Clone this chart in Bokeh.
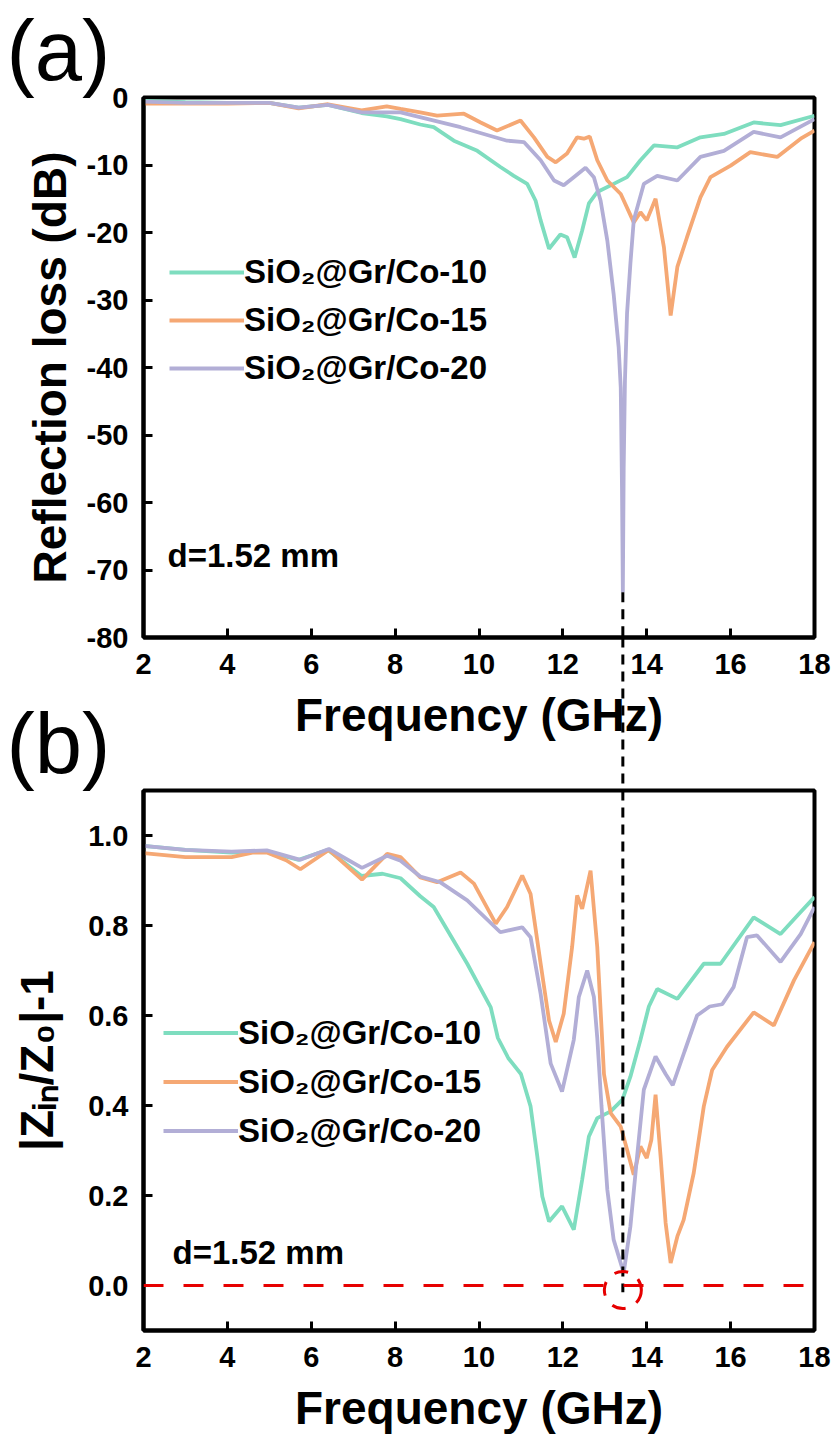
from bokeh.plotting import figure
from bokeh.models import (Range1d, FixedTicker, PrintfTickFormatter, Label, Title,
                          Legend, LegendItem, Span)
from bokeh.layouts import column
from bokeh.embed import file_html
from bokeh.resources import INLINE

FONT = "Liberation Sans"
C10 = "#7EDDBF"
C15 = "#F5A874"
C20 = "#B2AED6"

freq_ticks = [2, 4, 6, 8, 10, 12, 14, 16, 18]
rl_ticks = [-80, -70, -60, -50, -40, -30, -20, -10, 0]
z_ticks = [0.0, 0.2, 0.4, 0.6, 0.8, 1.0]
series_names = ["SiO\u2082@Gr/Co-10", "SiO\u2082@Gr/Co-15", "SiO\u2082@Gr/Co-20"]

# ---- (a) reflection loss (dB) ----
f_rl_10 = [2.0, 3.0, 4.0, 5.0, 5.7, 6.4, 7.2, 7.8, 8.13, 8.6, 8.92, 9.4, 9.96, 10.51,
           10.83, 11.15, 11.35, 11.47, 11.67, 11.94, 12.1, 12.28, 12.46, 12.62, 12.82,
           13.21, 13.53, 13.85, 14.17, 14.72, 15.28, 15.84, 16.55, 17.19, 18.0]
rl_10 = [-0.5, -0.7, -0.8, -0.8, -1.5, -1.1, -2.3, -2.8, -3.2, -4.0, -4.4, -6.4, -7.9, -10.3,
         -11.6, -12.8, -15.3, -18.2, -22.4, -20.3, -20.7, -23.7, -19.7, -15.7, -14.0,
         -12.8, -11.8, -9.3, -7.1, -7.4, -5.9, -5.4, -3.7, -4.1, -2.7]

f_rl_15 = [2.0, 3.0, 4.0, 5.0, 5.7, 6.4, 7.2, 7.8, 8.13, 8.6, 9.0, 9.64, 10.04, 10.43,
           10.99, 11.31, 11.63, 11.83, 12.1, 12.34, 12.5, 12.64, 12.82, 13.06, 13.38,
           13.69, 13.85, 14.0, 14.21, 14.41, 14.57, 14.73, 14.96, 15.28, 15.52, 16.0,
           16.47, 17.11, 17.67, 18.0]
rl_15 = [-0.9, -0.9, -0.9, -0.8, -1.6, -1.0, -1.9, -1.3, -1.7, -2.2, -2.7, -2.4, -3.7, -4.9,
         -3.4, -5.9, -8.8, -9.6, -8.3, -5.9, -6.1, -5.8, -9.3, -12.3, -14.3,
         -18.5, -17.0, -18.2, -15.0, -22.2, -32.3, -25.1, -20.7, -14.8, -11.8, -10.1,
         -8.1, -8.8, -6.1, -4.9]

f_rl_20 = [2.0, 3.0, 4.0, 5.0, 5.7, 6.4, 7.2, 7.8, 8.13, 9.56, 10.67, 11.07, 11.47, 11.79,
           12.02, 12.26, 12.54, 12.74, 12.9, 13.06, 13.21, 13.33, 13.38, 13.41, 13.43,
           13.45, 13.48, 13.53, 13.61, 13.69, 13.93, 14.25, 14.73, 15.28, 15.84, 16.55,
           17.19, 18.0]
rl_20 = [-0.6, -0.8, -0.8, -0.8, -1.5, -1.1, -2.2, -2.2, -2.2, -4.4, -6.4, -6.6, -9.3, -12.3,
         -13.0, -11.8, -10.4, -11.8, -15.3, -21.2, -29.1, -37.0, -43.0, -58.0, -73.3,
         -55.0, -42.0, -32.0, -24.6, -18.2, -12.8, -11.6, -12.3, -8.8, -7.9, -5.1,
         -5.9, -3.2]

# ---- (b) |Zin/Z0|-1 ----
f_z_10 = [2.0, 3.0, 4.1, 4.9, 5.7, 6.4, 7.2, 7.7, 8.13, 8.6, 8.92, 9.72, 10.28, 10.45,
          10.7, 11.0, 11.23, 11.39, 11.51, 11.67, 11.98, 12.26, 12.46, 12.62, 12.82,
          13.14, 13.42, 13.61, 13.85, 14.05, 14.25, 14.73, 15.36, 15.76, 16.55, 17.19,
          17.67, 18.0]
z_10 = [0.977, 0.968, 0.962, 0.965, 0.946, 0.968, 0.91, 0.915, 0.905, 0.865, 0.841, 0.715,
        0.618, 0.55, 0.505, 0.47, 0.398, 0.287, 0.198, 0.142, 0.176, 0.124, 0.235, 0.331,
        0.372, 0.387, 0.413, 0.464, 0.546, 0.62, 0.659, 0.637, 0.715, 0.715, 0.818,
        0.781, 0.83, 0.863]

f_z_15 = [2.0, 3.0, 4.1, 4.6, 4.94, 5.4, 5.74, 6.42, 7.21, 7.81, 8.13, 8.6, 9.0, 9.56,
          9.88, 10.4, 10.67, 11.03, 11.23, 11.47, 11.67, 11.83, 12.02, 12.22, 12.34,
          12.46, 12.66, 12.82, 12.98, 13.14, 13.38, 13.53, 13.69, 13.85, 14.0, 14.11,
          14.21, 14.33, 14.45, 14.57, 14.73, 14.88, 15.12, 15.36, 15.56, 15.91, 16.55,
          17.03, 17.51, 18.0]
z_15 = [0.961, 0.952, 0.952, 0.962, 0.962, 0.945, 0.925, 0.968, 0.902, 0.959, 0.952, 0.907,
        0.896, 0.918, 0.893, 0.804, 0.841, 0.911, 0.87, 0.715, 0.589, 0.541, 0.604, 0.752,
        0.867, 0.837, 0.922, 0.752, 0.47, 0.383, 0.353, 0.302, 0.246, 0.309, 0.283, 0.324,
        0.424, 0.287, 0.139, 0.05, 0.109, 0.146, 0.25, 0.398, 0.479, 0.53, 0.607,
        0.578, 0.678, 0.763]

f_z_20 = [2.0, 3.0, 4.1, 4.94, 5.74, 6.42, 7.21, 7.81, 8.13, 8.6, 9.08, 9.72, 10.51, 11.03,
          11.23, 11.47, 11.71, 11.98, 12.26, 12.38, 12.58, 12.74, 12.82, 12.92, 13.06,
          13.21, 13.45, 13.61, 13.77, 13.93, 14.21, 14.45, 14.62, 14.9, 15.2, 15.5, 15.8,
          16.07, 16.39, 16.63, 17.19, 17.67, 18.0]
z_20 = [0.977, 0.968, 0.964, 0.967, 0.946, 0.97, 0.928, 0.955, 0.944, 0.909, 0.896, 0.856,
        0.785, 0.796, 0.774, 0.648, 0.493, 0.431, 0.546, 0.641, 0.70, 0.641, 0.55, 0.40,
        0.213, 0.102, 0.028, 0.131, 0.287, 0.435, 0.509, 0.47, 0.445, 0.52, 0.6, 0.62,
        0.625, 0.663, 0.774, 0.778, 0.719, 0.781, 0.841]

thickness_text = "d=1.52 mm"
match_freq = f_rl_20[rl_20.index(min(rl_20))]

W = 837
BL, BR = 143, 23
FH = 540
H1, TOP1, BOT1 = 750, 97, 113          # panel (a) canvas: page y 0..750, frame 97..637
GAP = 153                               # between frame (a) bottom (637) and frame (b) top (790)
H2, TOP2, BOT2 = 756, 100, 116          # panel (b) canvas: page y 690..1446
DASH = "10 7"


def style(p, ylabel, ylabel_standoff):
    p.outline_line_color = "black"
    p.outline_line_width = 4
    p.xgrid.visible = False
    p.ygrid.visible = False
    p.background_fill_color = "white"
    for ax in (p.xaxis[0], p.yaxis[0]):
        ax.axis_line_width = 4
        ax.major_tick_line_width = 3
        ax.major_tick_in = 9
        ax.major_tick_out = 0
        ax.minor_tick_line_color = None
        ax.major_label_text_font = FONT
        ax.major_label_text_font_style = "bold"
        ax.major_label_text_font_size = "29px"
        ax.major_label_text_color = "black"
        ax.axis_label_text_font = FONT
        ax.axis_label_text_font_style = "bold"
        ax.axis_label_text_font_size = "46px"
        ax.axis_label_text_color = "black"
    p.xaxis[0].ticker = FixedTicker(ticks=freq_ticks)
    p.xaxis[0].axis_label = "Frequency (GHz)"
    p.xaxis[0].major_label_standoff = 16
    p.xaxis[0].axis_label_standoff = 12
    p.yaxis[0].axis_label = ylabel
    p.yaxis[0].major_label_standoff = 15
    p.yaxis[0].axis_label_standoff = ylabel_standoff


def add_lines(p, fs, ys, loc, row_h):
    items = []
    for f, y, c, n in zip(fs, ys, [C10, C15, C20], series_names):
        r = p.line(f, y, line_color=c, line_width=3.8)
        items.append(LegendItem(label=n, renderers=[r]))
    leg = Legend(items=items, location=loc, padding=0, margin=0, spacing=0,
                 label_standoff=0, glyph_width=75, glyph_height=row_h, label_height=row_h,
                 label_text_font=FONT, label_text_font_style="bold",
                 label_text_font_size="33px", label_text_color="black",
                 background_fill_alpha=0, border_line_alpha=0)
    p.add_layout(leg)


def panel_title(text):
    return Title(text=text, align="left", offset=-137, vertical_align="bottom",
                 text_font=FONT, text_font_style="normal", text_font_size="85px",
                 text_color="black", standoff=0)


def d_label(x, y):
    return Label(x=x, y=y, x_units="screen", y_units="screen", text=thickness_text,
                 text_font=FONT, text_font_style="bold", text_font_size="33px",
                 text_color="black", text_baseline="alphabetic")


# ---------- panel (a) ----------
p1 = figure(width=W, height=H1, output_backend="svg", toolbar_location=None,
            x_range=Range1d(2, 18), y_range=Range1d(-80, 0),
            min_border_left=BL, min_border_right=BR, min_border_top=TOP1,
            min_border_bottom=BOT1, title=panel_title("(a)"))
style(p1, "Reflection loss (dB)", 8)
p1.yaxis[0].ticker = FixedTicker(ticks=rl_ticks)
p1.yaxis[0].formatter = PrintfTickFormatter(format="%d")
add_lines(p1, [f_rl_10, f_rl_15, f_rl_20], [rl_10, rl_15, rl_20], (26, 245), 48)
p1.add_layout(d_label(24, 82))
p1.segment(x0=[match_freq], y0=[min(rl_20)], x1=[match_freq], y1=[-80],
           line_color="black", line_width=3, line_dash=DASH)

# ---------- connector: transparent strip between the two frames ----------
rl_per_px = 80 / FH
pm = figure(width=W, height=GAP, output_backend="svg", toolbar_location=None,
            x_range=Range1d(2, 18), y_range=Range1d(-80 - GAP * rl_per_px, -80),
            x_axis_type=None, y_axis_type=None,
            min_border_left=BL, min_border_right=BR, min_border_top=0, min_border_bottom=0)
pm.outline_line_color = None
pm.background_fill_alpha = 0
pm.border_fill_alpha = 0
pm.xgrid.visible = False
pm.ygrid.visible = False
pm.margin = (-(H1 - TOP1 - FH), 0, 0, 0)
pm.segment(x0=[match_freq], y0=[-80], x1=[match_freq], y1=[-80 - GAP * rl_per_px],
           line_color="black", line_width=3, line_dash=DASH)

# ---------- panel (b) ----------
p2 = figure(width=W, height=H2, output_backend="svg", toolbar_location=None,
            x_range=Range1d(2, 18), y_range=Range1d(-0.1, 1.1),
            min_border_left=BL, min_border_right=BR, min_border_top=TOP2,
            min_border_bottom=BOT2, title=panel_title("(b)"))
p2.margin = (-TOP2, 0, 0, 0)
p2.border_fill_alpha = 0
style(p2, "|Z\u1d62\u2099/Z\u2080|-1", 22)
p2.yaxis[0].ticker = FixedTicker(ticks=z_ticks)
p2.yaxis[0].formatter = PrintfTickFormatter(format="%.1f")
p2.add_layout(Span(location=0, dimension="width", line_color="#E60000", line_width=3,
                   line_dash="20 20"))
add_lines(p2, [f_z_10, f_z_15, f_z_20], [z_10, z_15, z_20], (20, 175), 49)
p2.segment(x0=[match_freq], y0=[1.1], x1=[match_freq], y1=[-0.015],
           line_color="black", line_width=3, line_dash=DASH)
p2.scatter([match_freq], [-0.01], marker="circle", size=37, fill_color=None,
           line_color="#E60000", line_width=3, line_dash="14 12")
p2.add_layout(d_label(29, 78))

layout = column(p1, pm, p2, spacing=0)
open("out.html", "w").write(file_html(layout, INLINE))
